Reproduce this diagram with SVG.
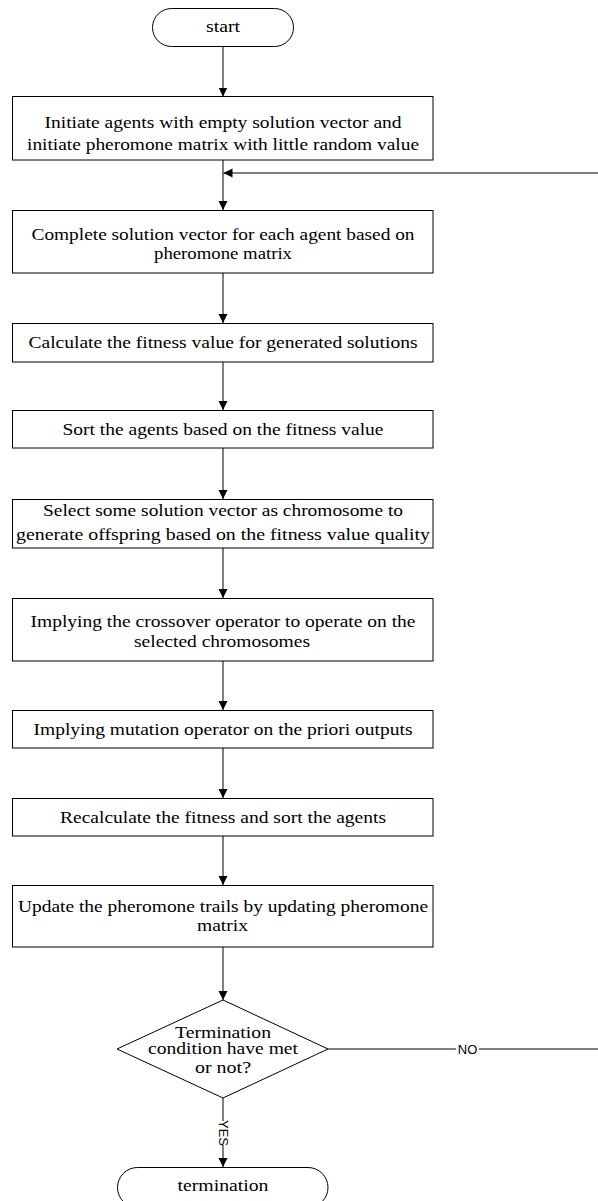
<svg xmlns="http://www.w3.org/2000/svg" width="598" height="1201" viewBox="0 0 598 1201">
<style>
.box{fill:#fff;stroke:#000;stroke-width:1}
.t{font-family:"Liberation Serif","Times New Roman",serif;font-size:16px;fill:#000;text-anchor:middle}
.lbl{font-family:"Liberation Sans",Arial,sans-serif;font-size:13px;fill:#000;text-anchor:middle}
.c{stroke:#000;stroke-width:1;fill:none}
</style>
<defs>
<marker id="ah" viewBox="0 0 10 10" refX="10" refY="5" markerWidth="9" markerHeight="10" markerUnits="userSpaceOnUse" orient="auto">
<path d="M0,0 L10,5 L0,10 Z" fill="#000"/>
</marker>
</defs>
<rect width="598" height="1201" fill="#fff"/>
<g id="connectors">
<line class="c" x1="223" y1="47" x2="223" y2="96.5" marker-end="url(#ah)"/>
<line class="c" x1="223" y1="160" x2="223" y2="210" marker-end="url(#ah)"/>
<line class="c" x1="598" y1="173" x2="223.5" y2="173" marker-end="url(#ah)"/>
<line class="c" x1="223" y1="273" x2="223" y2="323" marker-end="url(#ah)"/>
<line class="c" x1="223" y1="362" x2="223" y2="410" marker-end="url(#ah)"/>
<line class="c" x1="223" y1="448" x2="223" y2="499" marker-end="url(#ah)"/>
<line class="c" x1="223" y1="548" x2="223" y2="598" marker-end="url(#ah)"/>
<line class="c" x1="223" y1="661" x2="223" y2="710" marker-end="url(#ah)"/>
<line class="c" x1="223" y1="748" x2="223" y2="798" marker-end="url(#ah)"/>
<line class="c" x1="223" y1="836" x2="223" y2="885" marker-end="url(#ah)"/>
<line class="c" x1="223" y1="947" x2="223" y2="1000" marker-end="url(#ah)"/>
<line class="c" x1="328" y1="1049" x2="456" y2="1049"/>
<line class="c" x1="479" y1="1049" x2="598" y2="1049"/>
<text class="lbl" x="467.5" y="1053.5">NO</text>
<line class="c" x1="223" y1="1098" x2="223" y2="1121"/>
<line class="c" x1="223" y1="1145" x2="223" y2="1167" marker-end="url(#ah)"/>
<text class="lbl" transform="translate(218.5,1133) rotate(90)" x="0" y="0">YES</text>
</g>
<g id="start">
<rect class="box" x="152.5" y="8.5" width="141" height="38" rx="19" ry="19"/>
<text class="t" x="223" y="32" textLength="34" lengthAdjust="spacingAndGlyphs">start</text>
</g>
<g id="n1">
<rect class="box" x="12.5" y="96.5" width="420.5" height="63.5"/>
<text class="t" x="223" y="128" textLength="357" lengthAdjust="spacingAndGlyphs">Initiate agents with empty solution vector and</text>
<text class="t" x="223" y="150" textLength="392" lengthAdjust="spacingAndGlyphs">initiate pheromone matrix with little random value</text>
</g>
<g id="n2">
<rect class="box" x="12.5" y="210.5" width="420.5" height="62.5"/>
<text class="t" x="223" y="240" textLength="383" lengthAdjust="spacingAndGlyphs">Complete solution vector for each agent based on</text>
<text class="t" x="223" y="259" textLength="138" lengthAdjust="spacingAndGlyphs">pheromone matrix</text>
</g>
<g id="n3">
<rect class="box" x="12.5" y="323.5" width="420.5" height="38.5"/>
<text class="t" x="223" y="348" textLength="389" lengthAdjust="spacingAndGlyphs">Calculate the fitness value for generated solutions</text>
</g>
<g id="n4">
<rect class="box" x="12.5" y="410.5" width="420.5" height="37.5"/>
<text class="t" x="223" y="435" textLength="321" lengthAdjust="spacingAndGlyphs">Sort the agents based on the fitness value</text>
</g>
<g id="n5">
<rect class="box" x="12.5" y="499.5" width="420.5" height="48.5"/>
<text class="t" x="223" y="516" textLength="360" lengthAdjust="spacingAndGlyphs">Select some solution vector as chromosome to</text>
<text class="t" x="223" y="540" textLength="414" lengthAdjust="spacingAndGlyphs">generate offspring based on the fitness value quality</text>
</g>
<g id="n6">
<rect class="box" x="12.5" y="598.5" width="420.5" height="62.5"/>
<text class="t" x="223" y="627" textLength="385" lengthAdjust="spacingAndGlyphs">Implying the crossover operator to operate on the</text>
<text class="t" x="222" y="647" textLength="176" lengthAdjust="spacingAndGlyphs">selected chromosomes</text>
</g>
<g id="n7">
<rect class="box" x="12.5" y="710.5" width="420.5" height="37.5"/>
<text class="t" x="223" y="735" textLength="379" lengthAdjust="spacingAndGlyphs">Implying mutation operator on the priori outputs</text>
</g>
<g id="n8">
<rect class="box" x="12.5" y="798.5" width="420.5" height="37.5"/>
<text class="t" x="223" y="823" textLength="326" lengthAdjust="spacingAndGlyphs">Recalculate the fitness and sort the agents</text>
</g>
<g id="n9">
<rect class="box" x="12.5" y="885.5" width="420.5" height="61.5"/>
<text class="t" x="223" y="912" textLength="410" lengthAdjust="spacingAndGlyphs">Update the pheromone trails by updating pheromone</text>
<text class="t" x="222.5" y="931" textLength="51" lengthAdjust="spacingAndGlyphs">matrix</text>
</g>
<g id="decision">
<polygon class="box" points="223,1000 328,1049 223,1098 117,1049"/>
<text class="t" x="223" y="1038" textLength="96" lengthAdjust="spacingAndGlyphs">Termination</text>
<text class="t" x="223" y="1054" textLength="150" lengthAdjust="spacingAndGlyphs">condition have met</text>
<text class="t" x="223" y="1073" textLength="56" lengthAdjust="spacingAndGlyphs">or not?</text>
</g>
<g id="termination">
<rect class="box" x="117.5" y="1167.5" width="210.5" height="40" rx="20" ry="20"/>
<text class="t" x="223" y="1191" textLength="91" lengthAdjust="spacingAndGlyphs">termination</text>
</g>
</svg>
